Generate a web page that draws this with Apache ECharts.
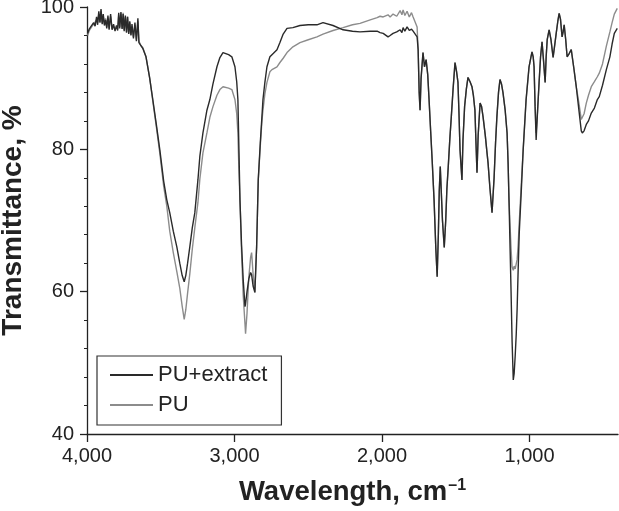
<!DOCTYPE html>
<html>
<head>
<meta charset="utf-8">
<script src="https://cdn.jsdelivr.net/npm/echarts@6/dist/echarts.min.js"></script>
<style>
  html, body { margin: 0; padding: 0; background: #fff; }
  #myCharts { width: 619px; height: 511px; }
</style>
</head>
<body>
<div id="myCharts"></div>
<script>
// wavenumber (cm-1)
var wavenumber = [
  3995, 3985, 3975, 3965, 3955, 3945, 3935, 3928, 3920, 3912, 3905, 3897, 3890, 3882, 3874, 3866,
  3858, 3850, 3840, 3830, 3820, 3810, 3800, 3792, 3785, 3778, 3770, 3762, 3755, 3748, 3740, 3732,
  3725, 3717, 3710, 3702, 3695, 3685, 3675, 3665, 3655, 3648, 3635, 3622, 3600, 3575, 3554, 3530,
  3506, 3480, 3459, 3439, 3415, 3391, 3371, 3355, 3341, 3330, 3318, 3303, 3286, 3269, 3248, 3235,
  3214, 3187, 3167, 3146, 3119, 3099, 3078, 3065, 3040, 3018, 2997, 2985, 2977, 2970, 2963, 2952,
  2941, 2929, 2925, 2915, 2903, 2891, 2884, 2874, 2862, 2850, 2839, 2825, 2814, 2807, 2794, 2780,
  2760, 2746, 2712, 2692, 2670, 2644, 2604, 2556, 2500, 2441, 2400, 2332, 2264, 2200, 2149, 2080,
  2033, 2013, 1992, 1959, 1945, 1925, 1900, 1877, 1865, 1857, 1845, 1830, 1815, 1800, 1789, 1776,
  1762, 1755, 1748, 1742, 1735, 1722, 1712, 1701, 1690, 1681, 1670, 1660, 1647, 1635, 1626, 1618,
  1612, 1605, 1598, 1590, 1578, 1568, 1560, 1551, 1540, 1530, 1518, 1505, 1495, 1485, 1478, 1471,
  1458, 1451, 1440, 1428, 1417, 1403, 1390, 1380, 1370, 1363, 1356, 1348, 1335, 1325, 1315, 1300,
  1288, 1281, 1268, 1254, 1240, 1230, 1221, 1210, 1200, 1190, 1180, 1165, 1152, 1145, 1139, 1125,
  1118, 1110, 1104, 1097, 1090, 1084, 1077, 1070, 1056, 1043, 1023, 1003, 990, 983, 975, 969,
  962, 955, 945, 935, 925, 915, 905, 894, 887, 880, 867, 855, 840, 830, 819, 808,
  799, 790, 779, 772, 765, 755, 745, 730, 717, 700, 683, 665, 649, 642, 630, 615,
  600, 581, 560, 540, 527, 505, 479, 455, 440, 425, 405
];

// transmittance (%) PU+extract
var puExtract = [
  96.3, 96.9, 97.2, 97.0, 97.8, 97.3, 98.6, 97.5, 99.4, 97.8, 99.7, 97.6, 99.0, 97.4, 98.2, 97.0,
  98.8, 96.8, 99.0, 96.8, 97.6, 96.6, 97.4, 96.7, 99.2, 97.0, 99.3, 96.9, 99.0, 96.6, 98.8, 96.4,
  98.6, 96.2, 98.0, 96.0, 97.6, 95.6, 97.8, 95.2, 98.4, 95.0, 94.8, 94.2, 93.0, 90.0, 87.0, 83.5,
  79.9, 75.5, 72.9, 71.1, 68.5, 66.3, 64.0, 62.3, 61.4, 62.3, 64.0, 66.3, 69.0, 71.1, 75.7, 79.0,
  82.3, 85.5, 87.0, 89.2, 91.6, 92.9, 93.6, 93.5, 93.3, 93.0, 91.6, 89.5, 87.0, 80.0, 72.9, 66.5,
  61.7, 57.9, 58.3, 60.0, 61.8, 62.7, 62.4, 60.8, 59.9, 66.3, 75.7, 81.0, 84.6, 87.0, 89.4, 91.6,
  93.0, 93.3, 94.0, 95.0, 96.2, 97.0, 97.1, 97.4, 97.5, 97.5, 97.8, 97.4, 96.8, 96.6, 96.5, 96.6,
  96.6, 96.4, 96.3, 95.8, 96.0, 96.3, 96.5, 96.8, 96.4, 97.1, 96.6, 97.2, 96.7, 96.9, 96.6, 96.5,
  95.8, 94.0, 88.0, 85.5, 90.0, 93.6, 91.6, 92.6, 90.5, 87.0, 82.5, 78.5, 72.9, 66.0, 62.1, 68.0,
  74.0, 77.6, 74.0, 70.0, 66.2, 70.0, 74.5, 77.5, 81.5, 84.6, 88.5, 92.2, 91.0, 89.4, 85.0, 79.9,
  75.7, 81.3, 86.0, 88.5, 90.1, 89.5, 88.8, 87.5, 85.5, 81.0, 76.7, 82.0, 86.5, 86.0, 84.6, 82.0,
  79.5, 78.1, 74.5, 71.1, 76.0, 81.0, 84.6, 88.0, 89.8, 89.2, 88.0, 85.5, 82.3, 78.0, 72.9, 60.0,
  53.0, 47.6, 48.5, 51.0, 54.0, 57.5, 63.0, 68.0, 74.0, 79.9, 87.0, 91.6, 93.0, 93.7, 93.0, 91.6,
  86.0, 81.3, 85.5, 89.4, 93.0, 95.1, 92.5, 89.4, 93.0, 95.4, 96.8, 95.5, 92.9, 94.5, 96.3, 98.0,
  99.1, 98.3, 95.8, 96.5, 97.5, 95.5, 93.0, 93.5, 94.0, 91.5, 88.8, 85.5, 82.6, 82.3, 82.6, 83.5,
  84.0, 85.1, 85.8, 87.0, 87.4, 89.0, 91.2, 93.0, 94.8, 96.3, 97.0
];

// transmittance (%) PU
var pu = [
  96.0, 96.7, 97.0, 97.3, 97.6, 97.5, 98.2, 97.8, 99.0, 97.9, 99.5, 97.8, 98.8, 97.6, 98.4, 97.2,
  98.5, 97.0, 98.7, 96.9, 97.3, 96.8, 97.2, 96.9, 98.9, 97.2, 99.1, 97.0, 99.2, 96.8, 98.6, 96.5,
  98.7, 96.3, 97.8, 96.1, 97.2, 95.8, 97.5, 95.4, 98.0, 95.2, 94.6, 94.3, 93.0, 90.0, 86.8, 83.2,
  79.4, 74.8, 72.0, 68.5, 65.5, 62.8, 60.5, 58.0, 56.1, 57.5, 59.8, 62.5, 66.0, 69.0, 72.5, 75.8,
  79.5, 82.3, 84.5, 86.0, 87.6, 88.4, 88.8, 88.8, 88.6, 88.4, 87.0, 85.0, 82.3, 77.0, 72.9, 65.5,
  59.5, 55.5, 54.1, 57.0, 62.0, 64.8, 65.5, 62.5, 59.9, 66.3, 75.7, 80.5, 84.0, 85.5, 87.8, 89.4,
  90.9, 91.2, 91.6, 92.2, 92.8, 93.6, 94.4, 95.0, 95.4, 95.8, 96.2, 96.7, 97.1, 97.5, 97.7, 98.2,
  98.5, 98.7, 98.6, 98.9, 98.6, 99.0, 98.7, 99.5, 98.9, 99.6, 98.8, 99.4, 98.6, 99.2, 98.6, 98.4,
  97.2, 94.0, 88.0, 85.5, 90.0, 93.6, 91.6, 92.6, 90.5, 87.0, 82.5, 78.5, 72.9, 66.0, 62.1, 68.0,
  74.0, 77.6, 74.0, 70.0, 66.2, 70.0, 74.5, 77.5, 81.5, 84.6, 88.5, 92.2, 91.0, 89.4, 85.0, 79.9,
  75.7, 81.3, 86.0, 88.5, 90.1, 89.5, 88.8, 87.5, 85.5, 81.0, 76.7, 82.0, 86.5, 86.0, 84.6, 82.0,
  79.5, 78.1, 74.5, 71.1, 76.0, 81.0, 84.6, 88.0, 89.8, 89.2, 88.0, 85.5, 82.3, 78.0, 72.9, 66.0,
  63.5, 63.0, 63.6, 63.2, 63.3, 64.5, 66.5, 69.5, 75.0, 79.9, 87.0, 91.6, 93.0, 93.7, 93.0, 91.6,
  86.0, 82.3, 85.5, 89.4, 93.0, 95.1, 92.5, 89.4, 93.0, 95.4, 96.8, 95.5, 92.9, 94.5, 96.3, 98.0,
  99.1, 98.3, 95.8, 96.5, 97.5, 95.5, 93.0, 93.5, 94.0, 91.5, 88.8, 86.5, 84.2, 84.0, 85.0, 86.5,
  87.6, 88.8, 89.5, 90.2, 90.7, 92.0, 94.5, 96.5, 97.8, 99.0, 99.8
];

var xTicks = [1000, 2000, 3000, 4000];

var myCharts = echarts.init(document.getElementById('myCharts'));

function pairs(ys) {
  return wavenumber.map(function (w, i) { return [w, ys[i]]; });
}

var axisColor = '#222';
var font = 'Liberation Sans, Arial, sans-serif';

var chartOptions = {
  animation: false,
  grid: { left: 87, right: 1, top: 7, bottom: 77, outerBoundsMode: 'none' },
  legend: {
    left: 97,
    top: 356,
    orient: 'vertical',
    data: ['PU+extract', 'PU'],
    icon: 'rect',
    itemWidth: 43,
    itemHeight: 2,
    itemGap: 8,
    padding: [8, 14, 9, 13],
    borderColor: '#333',
    borderWidth: 1.2,
    backgroundColor: '#fff',
    textStyle: { fontFamily: font, fontSize: 22, color: '#222', lineHeight: 22 }
  },
  xAxis: {
    type: 'value',
    inverse: true,
    min: 400,
    max: 4000,
    name: '{t|Wavelength, cm}{s|\u20131}',
    nameLocation: 'middle',
    nameGap: 44,
    nameTextStyle: {
      rich: {
        t: { fontFamily: font, fontSize: 27.5, fontWeight: 'bold', color: '#222' },
        s: { fontFamily: font, fontSize: 16, fontWeight: 'bold', color: '#222', verticalAlign: 'top', padding: [0, 0, 12, 1] }
      }
    },
    axisLine: { lineStyle: { color: axisColor, width: 1.3 } },
    axisTick: { customValues: xTicks, length: 8, lineStyle: { color: axisColor, width: 1.3 } },
    axisLabel: {
      customValues: xTicks,
      margin: 12,
      fontFamily: font,
      fontSize: 20,
      color: '#222',
      formatter: function (v) { return v.toLocaleString('en-US'); }
    },
    splitLine: { show: false }
  },
  yAxis: {
    type: 'value',
    min: 40,
    max: 100,
    interval: 20,
    name: 'Transmittance, %',
    nameLocation: 'middle',
    nameGap: 60,
    nameTextStyle: { fontFamily: font, fontSize: 28, fontWeight: 'bold', color: '#222' },
    axisLine: { show: true, lineStyle: { color: axisColor, width: 1.3 } },
    axisTick: { show: true, length: 7, lineStyle: { color: axisColor, width: 1.3 } },
    minorTick: { show: true, splitNumber: 5, length: 3, lineStyle: { color: axisColor, width: 1 } },
    axisLabel: { margin: 13, fontFamily: font, fontSize: 20, color: '#222' },
    splitLine: { show: false }
  },
  series: [
    {
      name: 'PU+extract',
      type: 'line',
      symbol: 'none',
      z: 3,
      lineStyle: { color: '#2a2a2a', width: 1.4 },
      itemStyle: { color: '#2a2a2a' },
      data: pairs(puExtract)
    },
    {
      name: 'PU',
      type: 'line',
      symbol: 'none',
      z: 2,
      lineStyle: { color: '#8c8c8c', width: 1.4 },
      itemStyle: { color: '#8c8c8c' },
      data: pairs(pu)
    }
  ]
};

myCharts.setOption(chartOptions);
</script>
</body>
</html>
